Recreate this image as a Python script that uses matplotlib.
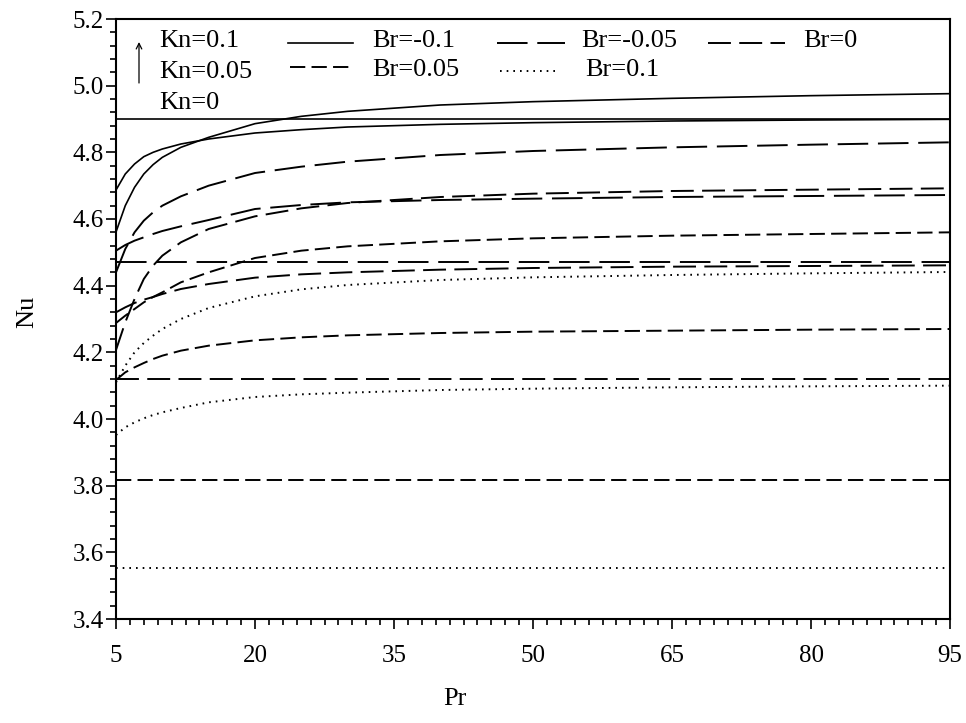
import matplotlib
matplotlib.use("Agg")
import matplotlib.pyplot as plt
from matplotlib.ticker import FixedLocator, MultipleLocator

plt.rcParams['font.family'] = ['Liberation Serif', 'DejaVu Serif']
plt.rcParams['lines.scale_dashes'] = False

# Pr values where the curves were read
pr = [5, 6, 7, 8, 9, 10, 12, 15, 20, 25, 30, 40, 50, 65, 80, 95]

# Kn = 0 : Nu does not depend on Pr
nu_kn0 = {'-0.1': 4.900, '-0.05': 4.471, '0': 4.120, '0.05': 3.817, '0.1': 3.553}

# Kn = 0.05
nu_kn005_brm01 = [4.687, 4.735, 4.765, 4.787, 4.800, 4.810, 4.825, 4.840, 4.858, 4.868, 4.876, 4.884, 4.889, 4.894, 4.897, 4.899]
nu_kn005_brm005 = [4.505, 4.522, 4.535, 4.545, 4.555, 4.564, 4.578, 4.597, 4.630, 4.642, 4.650, 4.657, 4.661, 4.666, 4.669, 4.672]
nu_kn005_br0 = [4.320, 4.335, 4.348, 4.358, 4.366, 4.375, 4.390, 4.405, 4.424, 4.434, 4.440, 4.448, 4.453, 4.457, 4.459, 4.461]
nu_kn005_br005 = [4.117, 4.140, 4.155, 4.168, 4.180, 4.190, 4.205, 4.220, 4.236, 4.245, 4.251, 4.258, 4.262, 4.265, 4.268, 4.270]
nu_kn005_br01 = [3.952, 3.975, 3.990, 4.002, 4.012, 4.020, 4.033, 4.050, 4.066, 4.074, 4.079, 4.087, 4.091, 4.095, 4.098, 4.100]

# Kn = 0.1
nu_kn01_brm01 = [4.561, 4.640, 4.695, 4.735, 4.763, 4.785, 4.815, 4.845, 4.886, 4.908, 4.923, 4.942, 4.952, 4.962, 4.970, 4.976]
nu_kn01_brm005 = [4.440, 4.510, 4.560, 4.595, 4.620, 4.640, 4.668, 4.700, 4.738, 4.757, 4.772, 4.792, 4.804, 4.815, 4.823, 4.830]
nu_kn01_br0 = [4.207, 4.290, 4.360, 4.420, 4.460, 4.490, 4.530, 4.570, 4.608, 4.632, 4.648, 4.666, 4.676, 4.684, 4.688, 4.692]
nu_kn01_br005 = [4.288, 4.310, 4.330, 4.350, 4.366, 4.380, 4.410, 4.440, 4.483, 4.505, 4.518, 4.533, 4.542, 4.550, 4.555, 4.560]
nu_kn01_br01 = [4.110, 4.160, 4.200, 4.228, 4.250, 4.270, 4.300, 4.333, 4.368, 4.389, 4.402, 4.417, 4.425, 4.432, 4.437, 4.441]

x_ticks = [5, 20, 35, 50, 65, 80, 95]

# line style per Br
styles = {
    '-0.1': dict(linestyle='-', lw=1.2),
    '-0.05': dict(dashes=(22, 7), lw=1.4),
    '0': dict(dashes=(16.5, 6), lw=1.4),
    '0.05': dict(dashes=(11, 4.5), lw=1.4),
    '0.1': dict(dashes=(1.2, 3.6), lw=1.4),
}

fig = plt.figure(figsize=(9.66, 7.23), dpi=100)
ax = fig.add_axes([116 / 966, 1 - 619 / 723, 834 / 966, 600 / 723])

for br, nu in nu_kn0.items():
    ax.plot([pr[0], pr[-1]], [nu, nu], color='black', **styles[br])

curves = [
    ('-0.1', nu_kn005_brm01), ('-0.05', nu_kn005_brm005), ('0', nu_kn005_br0),
    ('0.05', nu_kn005_br005), ('0.1', nu_kn005_br01),
    ('-0.1', nu_kn01_brm01), ('-0.05', nu_kn01_brm005), ('0', nu_kn01_br0),
    ('0.05', nu_kn01_br005), ('0.1', nu_kn01_br01),
]
for br, nu in curves:
    ax.plot(pr, nu, color='black', **styles[br])

ax.set_xlim(5, 95)
ax.set_ylim(3.4, 5.2)
ax.xaxis.set_major_locator(FixedLocator(x_ticks))
ax.xaxis.set_minor_locator(FixedLocator([5 + 1.5 * i for i in range(61)]))
ax.yaxis.set_major_locator(MultipleLocator(0.2))
ax.yaxis.set_minor_locator(MultipleLocator(0.04))
ax.yaxis.set_major_formatter(plt.FuncFormatter(lambda v, p: '%.1f' % v))
ax.tick_params(which='both', direction='out', top=False, right=False, labelsize=18, width=1.2)
ax.tick_params(which='major', length=7)
ax.tick_params(which='minor', length=4)
ax.tick_params(axis='x', pad=12)
ax.tick_params(axis='y', pad=2)
for s in ax.spines.values():
    s.set_linewidth(1.5)

ax.set_xlabel('Pr', fontsize=19)
ax.set_ylabel('Nu', fontsize=19)
ax.xaxis.set_label_coords(0.406, -0.115)
ax.yaxis.set_label_coords(-0.0935, 0.512)

# legend, drawn by hand to follow the original layout
def px(x, y):
    return ((x - 116) / 834, (619 - y) / 600)

fs = 19
for txt, y in [('Kn=0.1', 47), ('Kn=0.05', 78), ('Kn=0', 109)]:
    ax.text(*px(159, y), txt, transform=ax.transAxes, fontsize=fs, va='baseline')
ax.annotate('', xy=px(139, 42), xytext=px(139, 83), xycoords='axes fraction',
            arrowprops=dict(arrowstyle='->', lw=0.9, color='black', shrinkA=0, shrinkB=0))

legend_items = [
    ('-0.1', 288, 353, 43, 372, 47),
    ('-0.05', 497, 565, 43, 581, 47),
    ('0', 708, 785, 43, 803, 47),
    ('0.05', 290, 350, 67, 372, 76),
    ('0.1', 500, 560, 71, 585, 76),
]
for br, x0, x1, yl, xt, yt in legend_items:
    (a0, b0), (a1, b1) = px(x0, yl), px(x1, yl)
    ax.plot([a0, a1], [b0, b1], color='black', transform=ax.transAxes, clip_on=False, **styles[br])
    ax.text(*px(xt, yt), 'Br=' + br, transform=ax.transAxes, fontsize=fs, va='baseline')

fig.savefig('out.png', dpi=100)
